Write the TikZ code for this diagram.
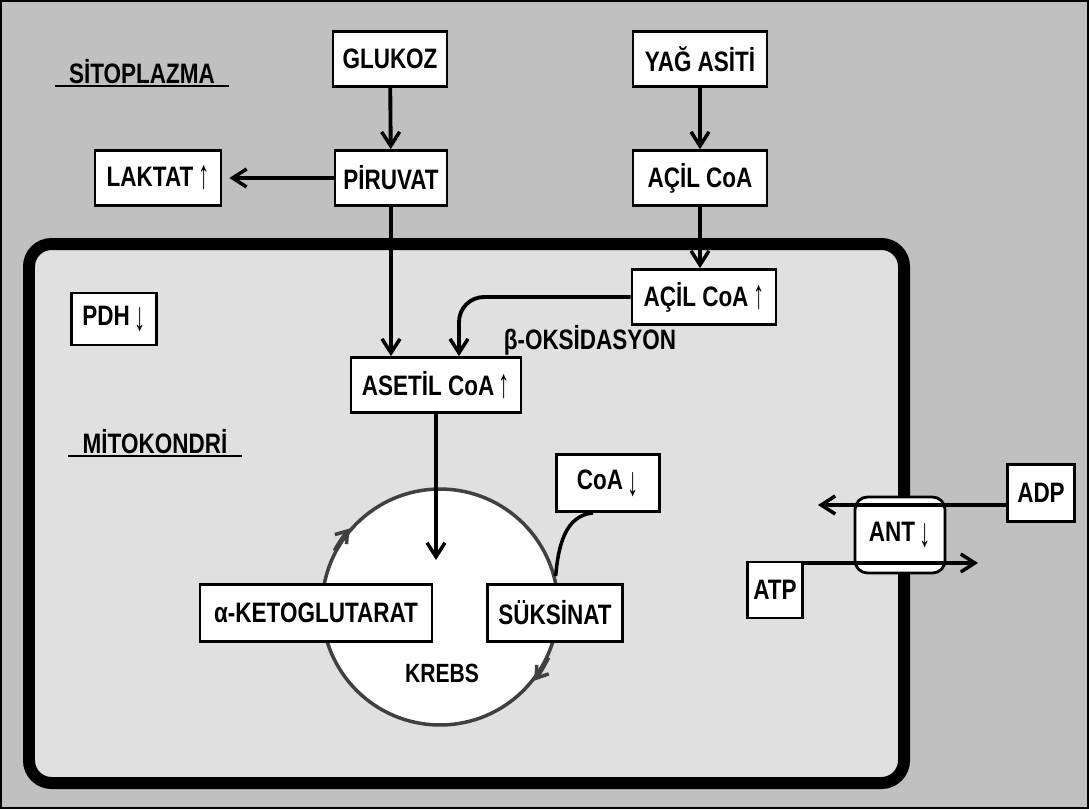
\documentclass[tikz,border=0pt]{standalone}
\usepackage{fontspec}
\setmainfont{Liberation Sans}[FakeStretch=0.8]
\usetikzlibrary{arrows.meta, positioning}
\definecolor{cytogray}{RGB}{192,192,192}
\definecolor{mitogray}{RGB}{224,224,224}
\newcommand\upar{\raisebox{-0.08em}{\scalebox{1}[1.45]{\mdseries↑}}}
\newcommand\downar{\raisebox{-0.2em}{\scalebox{1}[1.45]{\mdseries↓}}}

\begin{document}
\begin{tikzpicture}[
  x=0.02cm, y=-0.02cm,
  box/.style={rectangle, draw, fill=white, line width=1.6pt, minimum height=1.1cm,
              inner sep=2pt, font=\fontsize{16}{18}\selectfont\bfseries},
  title/.style={font=\fontsize{16}{18}\selectfont\bfseries, inner xsep=0.28cm, inner ysep=1pt},
  plain/.style={font=\fontsize{16}{18}\selectfont\bfseries},
  arr/.style={-{Straight Barb[length=0.28cm, width=0.36cm, line width=2pt]}, line width=2.2pt}
]
\useasboundingbox (0,0) rectangle (1089,809);

% cytoplasm and mitochondrion
\fill[cytogray] (0,0) rectangle (1089,809);
\draw[line width=1.5pt] (1,1) rectangle (1088,808);
\draw[line width=0.24cm, rounded corners=0.45cm, fill=mitogray] (29,244) rectangle (904,783);

\node[title] (sito) at (142,72) {SİTOPLAZMA};
\draw[line width=1.2pt] (sito.south west) -- (sito.south east);

\node[box, minimum width=2.28cm] (glukoz)  at (390,59)  {GLUKOZ};
\node[box, minimum width=2.24cm] (piruvat) at (391,178) {PİRUVAT};
\node[box, minimum width=2.52cm] (laktat)  at (158,178) {LAKTAT\,\upar};
\node[box, minimum width=2.68cm] (yag)     at (700,59)  {YAĞ ASİTİ};
\node[box, minimum width=2.68cm] (acil)    at (700,178) {AÇİL CoA};

\node[box, minimum width=2.88cm] (acilin) at (704,297) {AÇİL CoA\,\upar};
\node[box, minimum width=3.4cm]  (asetil) at (436,385) {ASETİL CoA\,\upar};
\node[box, minimum width=1.7cm, minimum height=1.04cm] (pdh) at (114,319) {PDH\,\downar};
\node[plain] (beta) at (590,340) {β-OKSİDASYON};

\node[title] (mito) at (155,442) {MİTOKONDRİ};
\draw[line width=1.2pt] (mito.south west) -- (mito.south east);

% krebs cycle
\node[circle, draw=black!75, line width=2pt, fill=white, minimum size=4.72cm] (krebs) at (440,607) {};
\draw[black!75, line width=2pt, -{Straight Barb[length=0.22cm, width=0.3cm]}]
  (krebs.152) to[bend left=5] (krebs.139);
\draw[black!75, line width=2pt, -{Straight Barb[length=0.22cm, width=0.3cm]}]
  (krebs.-25) to[bend left=5] (krebs.-38);
\node[plain, font=\fontsize{15}{17}\selectfont\bfseries] (krebslbl) at (442,673) {KREBS};

\node[box, minimum width=2.06cm, minimum height=1.14cm] (coa)      at (608,483) {CoA\,\downar};
\node[box, minimum width=4.64cm, minimum height=1.14cm] (keto)     at (316,613) {α-KETOGLUTARAT};
\node[box, minimum width=2.7cm,  minimum height=1.14cm] (suksinat) at (555,613) {SÜKSİNAT};

% carrier in the membrane
\node[box, minimum width=1.34cm, minimum height=1.14cm] (adp) at (1041,493) {ADP};
\node[box, minimum width=1.1cm,  minimum height=1.12cm] (atp) at (775,590)  {ATP};
\node[box, rounded corners=0.25cm, minimum width=1.8cm, minimum height=1.52cm] (ant) at (900,535) {ANT\,\downar};
\coordinate (adpout) at (818,505);
\coordinate (atpout) at (978,563);
\coordinate (krebsin) at (440,560);

\draw[arr] (glukoz) -- (piruvat);
\draw[arr, shorten >=0.14cm] (piruvat) -- (laktat);
\draw[arr] (yag) -- (acil);
\draw[arr] (acil.south) -- (acil.south |- acilin.north);
\draw[arr, line width=2pt] (piruvat.south) -- (piruvat.south |- asetil.north);
\draw[arr, rounded corners=0.5cm] (acilin.west) -| ([xshift=0.46cm]asetil.north);
\draw[arr, line width=1.8pt] (asetil.south) -- (asetil.south |- krebsin);
\draw[line width=2pt] ([xshift=-0.3cm]coa.south) to[out=185, in=85] (krebs.15);
\draw[arr] (adp.west |- adpout) -- (adpout);
\draw[arr] (atp.east |- atpout) -- (atpout);

\end{tikzpicture}
\end{document}
